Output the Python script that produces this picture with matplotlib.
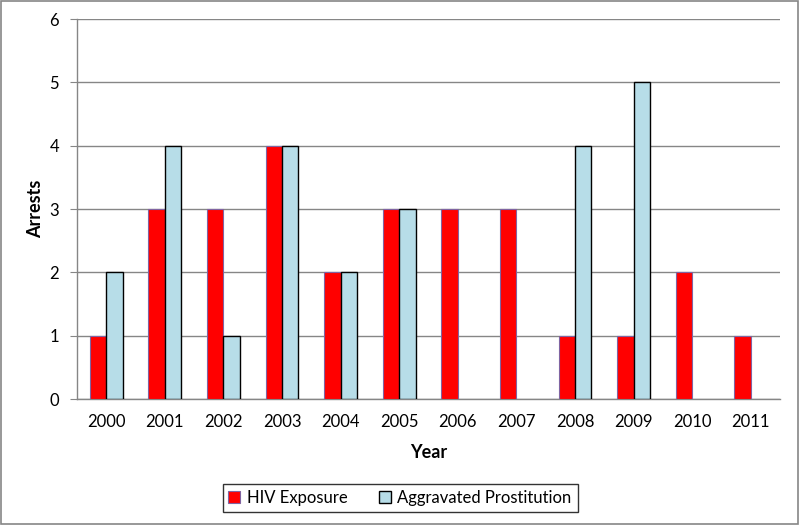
import matplotlib
matplotlib.use("Agg")
import matplotlib.pyplot as plt
import numpy as np
from matplotlib.patches import Rectangle

years = ["2000", "2001", "2002", "2003", "2004", "2005", "2006", "2007", "2008", "2009", "2010", "2011"]
hiv_exposure = [1, 3, 3, 4, 2, 3, 3, 3, 1, 1, 2, 1]
aggravated_prostitution = [2, 4, 1, 4, 2, 3, 0, 0, 4, 5, 0, 0]

plt.rcParams['font.family'] = ['Lato', 'DejaVu Sans']

fig = plt.figure(figsize=(8, 5.25), dpi=100)
ax = fig.add_axes([0.09625, 0.24, 0.87875, 0.7238])

x = np.arange(len(years))
w = 0.28
hiv = np.array(hiv_exposure, dtype=float)
agg = np.array(aggravated_prostitution, dtype=float)
ax.bar(x - w/2, np.where(hiv > 0, hiv, np.nan), w, color='#ff0000', edgecolor='#8064a2',
       linewidth=0.8, label='HIV Exposure', zorder=3)
ax.bar(x + w/2, np.where(agg > 0, agg, np.nan), w, color='#b7dde8', edgecolor='black',
       linewidth=1.0, label='Aggravated Prostitution', zorder=3)

ax.set_xlim(-0.5, len(years) - 0.5)
ax.set_ylim(0, 6)
ax.set_yticks(range(0, 7))
ax.set_xticks(x)
ax.set_xticklabels(years)
ax.tick_params(axis='x', length=0, labelsize=12, pad=11)
ax.tick_params(axis='y', length=5, color='#868686', labelsize=12, pad=8)
ax.yaxis.grid(True, color='#868686', linewidth=1, zorder=0)
for s in ['top', 'right']:
    ax.spines[s].set_visible(False)
for s in ['left', 'bottom']:
    ax.spines[s].set_color('#868686')
    ax.spines[s].set_linewidth(1)

ax.set_xlabel('Year', fontsize=13, fontweight='bold', labelpad=10)
ax.set_ylabel('Arrests', fontsize=13, fontweight='bold', labelpad=4)

leg = fig.legend(loc='center', bbox_to_anchor=(0.5, 0.0514), ncol=2, frameon=True,
                 fancybox=False, edgecolor='black', fontsize=12, handlelength=0.7,
                 handleheight=0.7, columnspacing=1.9, handletextpad=0.4, borderpad=0.35)
leg.get_frame().set_linewidth(1.0)

fig.patches.append(Rectangle((0.001, 0.001), 0.997, 0.997, transform=fig.transFigure,
                             fill=False, edgecolor='#868686', linewidth=1.2))

fig.savefig('out.png', dpi=100)
